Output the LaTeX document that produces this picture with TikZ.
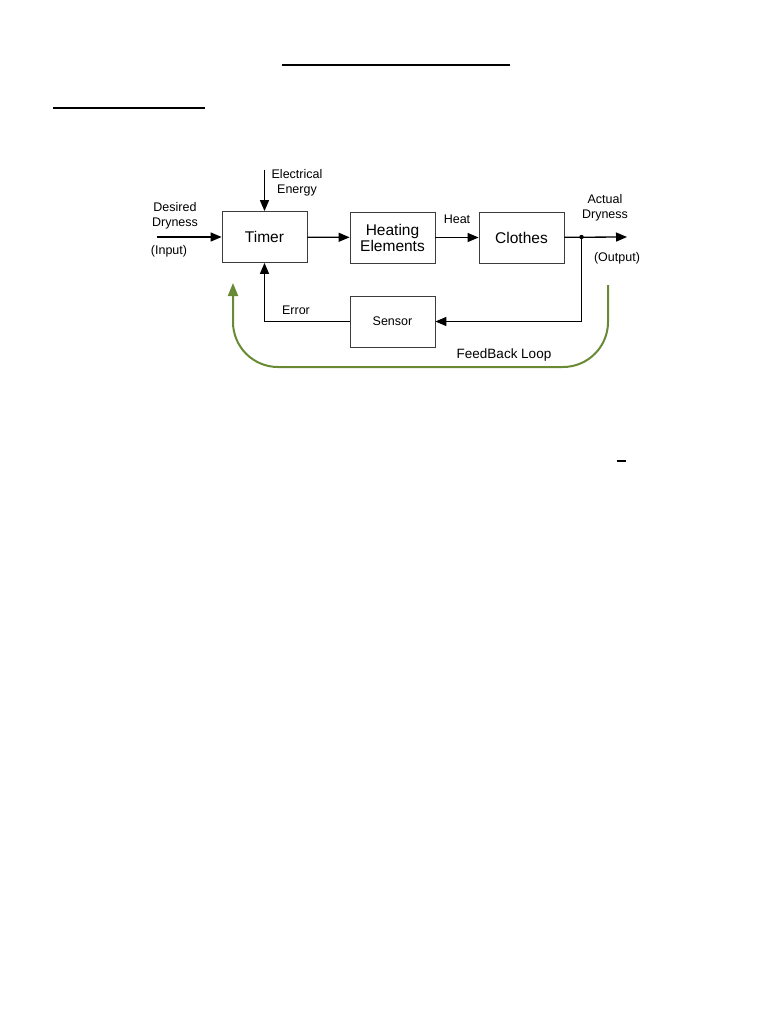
\documentclass[tikz,border=0pt]{standalone}
\usepackage{fontspec}
\setmainfont{Liberation Sans}
\usetikzlibrary{arrows.meta,positioning}
\definecolor{LoopGreen}{RGB}{104,138,52}
\definecolor{BoxGray}{RGB}{60,60,60}

\begin{document}
\begin{tikzpicture}[
    x=1pt, y=-1pt,
    block/.style={rectangle, draw=BoxGray, line width=0.8pt,
                  minimum width=85pt, minimum height=51pt,
                  font=\fontsize{15.5}{16}\selectfont, align=center, inner sep=1pt},
    lbl/.style={font=\fontsize{12.5}{14.5}\selectfont, align=center, inner sep=0pt},
    sig/.style={-{Triangle[length=11pt,width=9pt]}, line width=1.3pt},
    feed/.style={-{Triangle[length=13pt,width=10pt]}, line width=2pt,
                 color=LoopGreen, rounded corners=45pt},
]
\useasboundingbox (0,0) rectangle (768,1024);

% ── heading rules ──
\draw[line width=2pt] (282,65) -- (510,65);
\draw[line width=2pt] (53,108) -- (205,108);
\draw[line width=1.4pt] (617,461) -- (626,461);

% ── blocks ──
\node[block] (timer) at (264.5,237) {Timer};
\node[block] (heater) at (392.5,237.5) {Heating\\Elements};
\node[block] (clothes) at (521.5,237.5) {Clothes};
\node[block, font=\fontsize{12.5}{14}\selectfont] (sensor) at (392.5,321.5) {Sensor};

% ── free ends ──
\coordinate (inpt) at (157,237);
\coordinate (energy) at (264.5,170);
\coordinate (outpt) at (627,237);
\coordinate (junc) at (581.5,237);

% ── forward path ──
\draw[sig] (inpt) -- (timer.west);
\draw[sig] (energy) -- (timer.north);
\draw[sig] (timer) -- (heater);
\draw[sig] (heater) -- (clothes);
\draw[sig] (clothes) -- (outpt);
\fill (junc) circle (2.2pt);

% ── sensor return ──
\draw[sig] (junc) |- (sensor.east);
\draw[sig] (sensor.west) -| (timer.south);

% ── labels ──
\node[lbl] (energylbl) at (297,183) {Electrical\\Energy};
\node[lbl] (desired) at (175,216) {Desired\\Dryness};
\node[lbl] (input) at (169,251) {(Input)};
\node[lbl] (heat) at (457,219) {Heat};
\node[lbl] (actual) at (605,208) {Actual\\Dryness};
\node[lbl] (output) at (617,258) {(Output)};
\node[lbl] (error) at (296,310) {Error};
\node[lbl, font=\fontsize{13.5}{15}\selectfont] (looplbl) at (504,355) {FeedBack Loop};

% ── feedback loop ──
\coordinate (fbstart) at (608,285);
\coordinate (fbend) at (233,283);
\draw[feed] (fbstart) -- (608,367) -- (233,367) -- (fbend);

\end{tikzpicture}
\end{document}
